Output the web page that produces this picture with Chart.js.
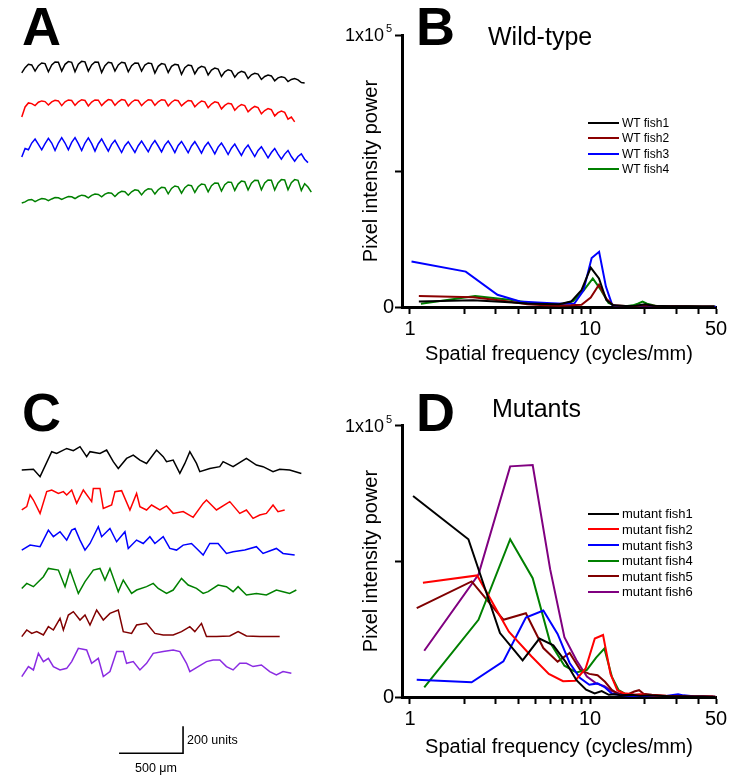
<!DOCTYPE html>
<html>
<head>
<meta charset="utf-8">
<script src="https://cdn.jsdelivr.net/npm/chart.js@4.4.1/dist/chart.umd.min.js"></script>
<style>
  body { margin: 0; background: #fff; }
  #fig { position: relative; width: 747px; height: 777px; overflow: hidden;
         font-family: "Liberation Sans", Arial, sans-serif; color: #000; }
  #fig canvas { position: absolute; }
  .t { position: absolute; white-space: nowrap; line-height: 1; }
  .legline { position: absolute; height: 2px; }
</style>
</head>
<body>
<div id="fig">
  <canvas id="traceA" width="330" height="175" style="left:0;top:50px"></canvas>
  <canvas id="traceC" width="330" height="397" style="left:0;top:380px"></canvas>
  <canvas id="specB" width="400" height="346" style="left:340px;top:20px"></canvas>
  <canvas id="specD" width="400" height="349" style="left:340px;top:410px"></canvas>
</div>
<script>
// ---- spectra, panel B (wild-type) ----
const wtLabels = ['WT fish1', 'WT fish2', 'WT fish3', 'WT fish4'];
const wtFreq1 = [1.12, 2.24, 3.36, 4.48, 5.6, 6.72, 7.84, 8.96, 10.08, 11.2, 12.32, 13.44, 15.7, 17.9, 20.2, 22.4, 28, 35, 42, 49];
const wtPow1  = [2000, 2500, 1800, 1300, 1100, 1000, 2000, 6200, 14500, 10500, 2500, 600, 400, 500, 1000, 500, 300, 300, 200, 200];
const wtFreq2 = [1.12, 2.24, 3.36, 4.48, 5.6, 6.72, 7.84, 8.96, 10.08, 11.2, 12.32, 13.44, 15.7, 17.9, 20.2, 25, 30, 40, 49];
const wtPow2  = [4000, 3600, 2200, 1000, 600, 500, 600, 800, 3500, 8200, 3000, 600, 400, 400, 600, 300, 300, 200, 200];
const wtFreq3 = [1.02, 2.04, 3.06, 4.08, 5.1, 6.12, 7.14, 8.16, 9.18, 10.2, 11.22, 12.24, 13.26, 14.28, 16.3, 18.4, 20.4, 22.4, 25.5, 30.6, 35.7, 40.8, 45.9, 49.9];
const wtPow3  = [16700, 13000, 4500, 2000, 1700, 1400, 1200, 1200, 6000, 18000, 20300, 7500, 800, 300, 200, 300, 600, 300, 200, 200, 100, 100, 100, 100];
const wtFreq4 = [1.15, 2.3, 3.45, 4.6, 5.75, 6.9, 8.05, 9.2, 10.35, 11.5, 12.65, 13.8, 14.95, 16.1, 17.25, 18.4, 19.55, 20.7, 23, 27.6, 32.2, 36.8, 41.4, 46, 49.5];
const wtPow4  = [1200, 4000, 2800, 1600, 1000, 900, 2200, 6000, 10500, 6200, 1500, 500, 400, 400, 600, 1200, 2000, 1200, 500, 400, 300, 300, 200, 200, 200];

// ---- spectra, panel D (mutants) ----
const mutLabels = ['mutant fish1', 'mutant fish2', 'mutant fish3', 'mutant fish4', 'mutant fish5', 'mutant fish6'];
const mutFreq1 = [1.04, 2.11, 3.16, 4.22, 5.23, 6.25, 7.3, 8.4, 9.5, 10.6, 11.6, 12.7, 13.8, 14.8, 16.9, 19, 21.1, 25.3, 29.5, 33.8, 38, 42.2, 46.4, 49.6];
const mutPow1  = [73900, 58000, 23500, 13500, 21500, 19000, 13000, 6200, 2700, 1300, 2200, 800, 1000, 600, 800, 500, 600, 400, 300, 300, 200, 200, 100, 100];
const mutFreq2 = [1.18, 2.36, 3.54, 4.72, 5.9, 7.08, 8.26, 9.44, 10.62, 11.8, 12.98, 14.16, 15.34, 16.52, 17.7, 18.88, 21.24, 23.6, 28.3, 33, 37.8, 42.5, 47.2, 49.6];
const mutPow2  = [42000, 44700, 24000, 15000, 8500, 5800, 6000, 10500, 21500, 22800, 8500, 2500, 1400, 1200, 800, 1000, 600, 500, 400, 300, 200, 200, 200, 100];
const mutFreq3 = [1.09, 2.2, 3.3, 4.4, 5.5, 6.6, 7.7, 8.8, 9.9, 11, 12.1, 13.2, 14.3, 15.4, 16.5, 18.7, 22, 26.4, 30.8, 33, 37.4, 41.8, 46.2, 49.5];
const mutPow3  = [6300, 5400, 13100, 29200, 31800, 23200, 12500, 7000, 4500, 5000, 3500, 1300, 800, 600, 500, 400, 300, 400, 1000, 600, 300, 200, 100, 100];
const mutFreq4 = [1.2, 2.4, 3.6, 4.8, 6, 7.2, 8.4, 9.6, 10.8, 12, 13.2, 14.4, 15.6, 16.8, 18, 19.2, 21.6, 24, 28.8, 33.6, 38.4, 43.2, 48];
const mutPow4  = [3500, 28400, 58000, 43700, 20000, 11500, 9000, 10000, 14500, 17800, 7500, 2500, 1200, 800, 600, 500, 400, 300, 300, 200, 200, 100, 100];
const mutFreq5 = [1.09, 2.2, 3.3, 4.4, 5.5, 6.6, 7.7, 8.8, 9.9, 11, 12.1, 13.2, 14.3, 15.4, 16.5, 17.6, 18.7, 19.8, 22, 26.4, 30.8, 35.2, 39.6, 44, 48.4];
const mutPow5  = [32700, 42500, 28400, 30800, 18000, 13000, 16200, 10000, 8500, 8000, 5600, 2600, 1200, 1000, 1200, 2000, 2500, 1200, 800, 500, 400, 300, 200, 200, 100];
const mutFreq6 = [1.2, 2.4, 3.6, 4.8, 6, 7.2, 8.4, 9.6, 10.8, 12, 13.2, 14.4, 15.6, 16.8, 19.2, 21.6, 24, 28.8, 33.6, 38.4, 43.2, 48];
const mutPow6  = [17000, 45000, 84800, 85300, 47000, 22000, 13500, 7500, 5000, 4000, 2200, 1400, 1000, 800, 800, 600, 500, 300, 300, 200, 200, 100];

// axis ticks shared by B and D
const freqTicks = [1, 2, 3, 4, 5, 6, 7, 8, 9, 10, 20, 30, 40, 50];
const freqTickLabels = [1, 10, 50];
const powerTicks = [0, 50000, 100000];

// ---- intensity traces, panel A (one sample every 26 um, values in units) ----
const traceStep = 26;
const wtTrace1 = [126,165,190,185, 140,180,200,195, 135,185,207,205, 140,190,210,205, 135,190,212,208,
  140,185,207,205, 130,180,205,200, 140,185,205,200, 135,180,200,198, 140,185,200,195, 125,175,195,190,
  130,175,190,185, 115,165,185,180, 120,160,175,168, 112,148,162,155, 100,135,150,142, 95,125,138,130,
  85,112,124,118, 78,100,110,104, 68,90,98,92, 62,78,85,75, 55,52];
const wtTrace2 = [96,170,200,195, 180,205,215,210, 185,208,220,215, 180,208,222,218, 182,208,224,218,
  178,206,222,220, 180,206,225,220, 182,208,225,220, 178,205,222,218, 180,205,224,220, 182,208,224,220,
  178,205,222,216, 178,200,218,214, 172,196,214,208, 165,192,208,202, 156,182,198,192, 146,172,188,180,
  134,158,174,166, 120,144,158,150, 104,128,140,130, 80,95,60];
const wtTrace3 = [96,160,150,200, 230,190,150,195, 235,200,145,200, 240,200,150,205, 240,195,145,200,
  238,195,140,195, 230,185,140,190, 220,175,130,180, 210,170,130,180, 215,175,135,185, 218,178,135,185,
  215,175,130,182, 212,172,128,178, 210,170,125,175, 205,165,120,170, 200,160,115,162, 192,150,108,155,
  185,142,100,145, 172,132,90,130, 160,118,80,118, 145,100,65,100, 120,80,55];
const wtTrace4 = [52,60,75,78, 62,75,85,82, 70,82,92,90, 78,90,100,98, 85,100,110,105, 90,108,118,115,
  98,118,128,125, 100,125,138,135, 110,135,150,145, 112,142,158,155, 118,150,168,165, 120,160,178,172,
  125,165,185,180, 130,172,192,188, 135,180,200,198, 140,188,208,205, 145,192,214,210, 148,198,220,218,
  150,200,222,220, 148,200,225,222, 150,202,225,220, 145,195,170,133];

// ---- intensity traces, panel C: [position um, intensity units] ----
const mutTrace1 = [[0,74],[91,79],[143,25],[234,210],[273,197],[351,234],[403,217],[455,247],[507,173],[533,210],
  [611,197],[663,222],[715,136],[754,86],[819,160],[871,185],[923,148],[975,123],[1053,222],[1105,173],[1131,136],
  [1183,148],[1235,49],[1274,123],[1313,210],[1365,123],[1391,62],[1469,86],[1547,99],[1573,136],[1651,99],
  [1755,160],[1833,111],[1885,99],[1963,62],[2015,79],[2093,74],[2184,49]];
const mutTrace2 = [[0,74],[39,99],[65,185],[91,148],[143,49],[195,210],[234,222],[286,197],[325,210],[351,185],
  [390,222],[429,123],[481,222],[546,136],[559,234],[611,234],[637,86],[702,111],[728,210],[780,217],[845,74],
  [897,197],[923,99],[975,74],[1014,111],[1079,74],[1131,104],[1183,49],[1261,62],[1339,20],[1417,123],
  [1443,148],[1521,74],[1625,136],[1703,49],[1755,74],[1807,12],[1859,37],[1911,49],[1963,111],[2002,62],[2054,74]];
const mutTrace3 = [[0,74],[65,111],[143,99],[208,222],[247,173],[299,210],[351,148],[390,222],[416,234],[455,148],
  [494,74],[533,123],[598,247],[624,173],[689,234],[741,136],[806,210],[832,86],[897,148],[949,123],[1001,173],
  [1040,123],[1105,173],[1157,86],[1209,74],[1261,111],[1326,123],[1378,74],[1417,37],[1469,123],[1534,123],
  [1599,49],[1651,62],[1742,74],[1833,99],[1885,49],[1989,86],[2041,49],[2132,37]];
const mutTrace4 = [[0,86],[39,123],[91,99],[169,173],[208,234],[286,222],[338,99],[377,222],[442,49],[494,136],
  [559,222],[611,234],[650,148],[689,234],[754,62],[793,148],[858,49],[897,74],[975,99],[1027,123],[1066,86],
  [1131,49],[1183,74],[1248,160],[1300,111],[1365,86],[1417,49],[1456,62],[1534,111],[1599,99],[1651,62],
  [1690,99],[1755,37],[1833,49],[1911,37],[1989,74],[2041,62],[2093,49],[2145,74]];
const mutTrace5 = [[0,25],[39,74],[78,49],[117,62],[169,37],[208,99],[247,74],[299,160],[325,74],[364,185],
  [403,210],[455,148],[494,185],[533,111],[585,222],[637,148],[689,197],[754,222],[793,62],[858,49],[897,111],
  [975,123],[1040,49],[1105,37],[1183,37],[1248,62],[1313,99],[1352,62],[1404,123],[1443,25],[1521,25],
  [1625,30],[1690,62],[1755,30],[1859,25],[2015,25]];
const mutTrace6 = [[0,25],[52,99],[91,74],[130,197],[169,136],[208,160],[247,99],[299,74],[351,86],[390,136],
  [442,234],[507,222],[546,123],[598,160],[637,25],[689,62],[741,210],[793,210],[819,123],[871,136],[923,74],
  [975,123],[1027,197],[1105,210],[1183,222],[1235,210],[1287,123],[1313,62],[1378,99],[1443,136],[1495,148],
  [1547,148],[1599,99],[1651,74],[1703,123],[1755,123],[1807,99],[1872,111],[1937,62],[1989,37],[2041,62],[2106,49]];

// scale bar for the traces
const scaleBarUm = 500;
const scaleBarUnits = 200;

// ---- styling / layout ----
Chart.defaults.font.family = '"Liberation Sans", Arial, sans-serif';
Chart.defaults.color = '#000';
const wtColors = ['#000000', '#8b0000', '#0000ff', '#008000'];
const mutColors = ['#000000', '#ff0000', '#0000ff', '#008000', '#800000', '#800080'];
const traceColorsA = ['#000000', '#ff0000', '#0000ff', '#008000'];
const traceColorsC = ['#000000', '#ff0000', '#0000ff', '#008000', '#800000', '#8a2be2'];
const offsetsA = [1000, 704, 407, 111];
const offsetsC = [2200, 1904, 1607, 1311, 1015, 719];

const fig = document.getElementById('fig');

function text(str, left, baseline, size, weight) {
  const d = document.createElement('div');
  d.className = 't';
  d.style.left = left + 'px';
  d.style.top = (baseline - 0.8465 * size) + 'px';
  d.style.fontSize = size + 'px';
  if (weight) d.style.fontWeight = weight;
  d.textContent = str;
  fig.appendChild(d);
  return d;
}

function legend(labels, colors, left, firstY, gap, size) {
  labels.forEach((lab, i) => {
    const cy = firstY + i * gap;
    const ln = document.createElement('div');
    ln.className = 'legline';
    ln.style.left = left + 'px';
    ln.style.top = Math.round(cy - 1) + 'px';
    ln.style.width = '31px';
    ln.style.background = colors[i];
    fig.appendChild(ln);
    text(lab, left + 34, cy + 0.36 * size, size);
  });
}

function spectrum(id, freqs, powers, colors, xHeight) {
  const datasets = freqs.map((f, i) => ({
    data: f.map((x, k) => ({ x: x, y: powers[i][k] })),
    borderColor: colors[i], borderWidth: 2, pointRadius: 0, tension: 0, fill: false
  }));
  new Chart(document.getElementById(id), {
    type: 'line',
    data: { datasets },
    options: {
      responsive: false, animation: false,
      layout: { padding: { left: 0, top: 15, right: 24, bottom: 0 } },
      plugins: { legend: { display: false }, tooltip: { enabled: false } },
      scales: {
        x: {
          type: 'logarithmic', min: 0.903, max: 50,
          afterBuildTicks: s => { s.ticks = freqTicks.map(v => ({ value: v })); },
          afterFit: s => { s.height = xHeight; s.paddingLeft = 0; s.paddingRight = 0; },
          ticks: { autoSkip: false, maxRotation: 0, minRotation: 0, padding: 3, font: { size: 20 }, color: '#000',
                   callback: v => freqTickLabels.includes(v) ? String(v) : '' },
          grid: { drawOnChartArea: false, drawTicks: true, tickLength: 7, tickWidth: 2, tickColor: '#000' },
          border: { display: true, color: '#000', width: 3 },
          title: { display: true, text: 'Spatial frequency (cycles/mm)', font: { size: 20 }, color: '#000', padding: 0 }
        },
        y: {
          min: 0, max: 100000,
          afterBuildTicks: s => { s.ticks = powerTicks.map(v => ({ value: v })); },
          afterFit: s => { s.width = 62; s.paddingTop = 0; s.paddingBottom = 0; },
          ticks: { padding: 1, font: { size: 20 }, color: '#000', callback: v => v === 0 ? '0' : '' },
          grid: { drawOnChartArea: false, drawTicks: true, tickLength: 7, tickWidth: 2, tickColor: '#000' },
          border: { display: true, color: '#000', width: 3 },
          title: { display: true, text: 'Pixel intensity power', font: { size: 20 }, color: '#000',
                   padding: { top: 19, bottom: 0 } }
        }
      }
    }
  });
}

function traces(id, series, colors, offsets, yMax, extra) {
  const datasets = series.map((s, i) => ({
    data: typeof s[0] === 'number'
      ? s.map((v, k) => ({ x: k * traceStep, y: v + offsets[i] }))
      : s.map(p => ({ x: p[0], y: p[1] + offsets[i] })),
    borderColor: colors[i], borderWidth: 1.5, pointRadius: 0, tension: 0, fill: false
  }));
  if (extra) datasets.push(extra);
  new Chart(document.getElementById(id), {
    type: 'line',
    data: { datasets },
    options: {
      responsive: false, animation: false,
      layout: { padding: 0 },
      plugins: { legend: { display: false }, tooltip: { enabled: false } },
      scales: {
        x: { type: 'linear', display: false, min: -170, max: 2408 },
        y: { display: false, min: 0, max: yMax }
      }
    }
  });
}

traces('traceA', [wtTrace1, wtTrace2, wtTrace3, wtTrace4], traceColorsA, offsetsA, 1296);

const barX = 760, barY = 176;
traces('traceC', [mutTrace1, mutTrace2, mutTrace3, mutTrace4, mutTrace5, mutTrace6], traceColorsC, offsetsC, 2941, {
  data: [{ x: barX, y: barY }, { x: barX + scaleBarUm, y: barY }, { x: barX + scaleBarUm, y: barY + scaleBarUnits }],
  borderColor: '#000', borderWidth: 1.6, pointRadius: 0, tension: 0, fill: false
});

spectrum('specB', [wtFreq1, wtFreq2, wtFreq3, wtFreq4], [wtPow1, wtPow2, wtPow3, wtPow4], wtColors, 59);
spectrum('specD', [mutFreq1, mutFreq2, mutFreq3, mutFreq4, mutFreq5, mutFreq6],
         [mutPow1, mutPow2, mutPow3, mutPow4, mutPow5, mutPow6], mutColors, 62);

// panel letters and titles
text('A', 22, 45, 54, 'bold');
text('B', 416, 45, 54, 'bold');
text('C', 22, 431, 54, 'bold');
text('D', 416, 431, 54, 'bold');
text('Wild-type', 488, 45, 25);
text('Mutants', 492, 417, 25);

// y-axis top labels (1x10^5)
text('1x10', 345, 41, 18); text('5', 386, 32, 11);
text('1x10', 345, 432, 18); text('5', 386, 423, 11);

legend(wtLabels, wtColors, 588, 122.7, 15.5, 12);
legend(mutLabels, mutColors, 588, 513.7, 15.6, 13);

text(scaleBarUnits + ' units', 187, 745, 12.5);
text(scaleBarUm + ' \u03bcm', 135, 773, 12.5);
</script>
</body>
</html>
